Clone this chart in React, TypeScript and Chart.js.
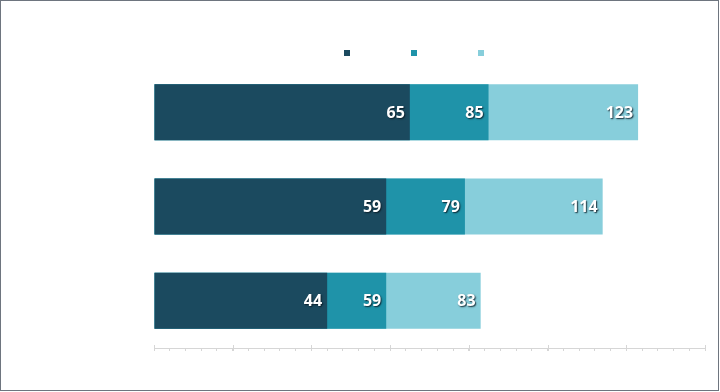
import React, { useEffect, useRef } from "react";
import { Chart, registerables } from "chart.js";

Chart.register(...registerables);

const categories = ["Row 1", "Row 2", "Row 3"];
const seriesNames = ["Series 1", "Series 2", "Series 3"];
const series1 = [65, 59, 44];
const series2 = [85, 79, 59];
const series3 = [123, 114, 83];
const colors = ["#1b4a5f", "#1f93a9", "#87cedb"];
const axisMax = 140;
const minorStep = 4;
const majorStep = 20;

const valueLabels = {
  id: "valueLabels",
  afterDatasetsDraw(chart: any) {
    const ctx = chart.ctx;
    ctx.save();
    ctx.font = "700 16px 'Open Sans'";
    ctx.textAlign = "right";
    ctx.textBaseline = "middle";
    chart.data.datasets.forEach((ds: any, di: number) => {
      const meta = chart.getDatasetMeta(di);
      meta.data.forEach((el: any, i: number) => {
        const v = ds.data[i];
        ctx.shadowColor = "rgba(10,25,35,0.9)";
        ctx.shadowBlur = 1.5;
        ctx.shadowOffsetX = 1;
        ctx.shadowOffsetY = 1;
        ctx.fillStyle = "#ffffff";
        ctx.fillText(String(v), el.x - 5, el.y + 1);
      });
    });
    ctx.restore();
  },
};

const majorTicks = {
  id: "majorTicks",
  afterDraw(chart: any) {
    const x = chart.scales.x;
    const ctx = chart.ctx;
    const y = chart.chartArea.bottom;
    ctx.save();
    ctx.strokeStyle = "#d6d6d6";
    ctx.lineWidth = 1;
    for (let v = 0; v <= axisMax; v += majorStep) {
      const px = Math.round(x.getPixelForValue(v)) + 0.5;
      ctx.beginPath();
      ctx.moveTo(px, y - 3);
      ctx.lineTo(px, y + 3);
      ctx.stroke();
    }
    ctx.restore();
  },
};

export default function App() {
  const ref = useRef<HTMLCanvasElement>(null);
  useEffect(() => {
    document.body.style.margin = "0";
    const chart = new Chart(ref.current!, {
      type: "bar",
      data: {
        labels: categories,
        datasets: [series1, series2, series3].map((d, i) => ({
          label: seriesNames[i],
          data: d,
          backgroundColor: colors[i],
          borderWidth: 0,
          grouped: false,
          categoryPercentage: 1,
          barPercentage: 0.593,
        })),
      },
      options: {
        indexAxis: "y",
        animation: false,
        responsive: false,
        maintainAspectRatio: false,
        layout: { padding: { top: -8, left: 129, right: 15, bottom: 41 } },
        plugins: {
          tooltip: { enabled: false },
          legend: {
            position: "top",
            maxHeight: 73,
            labels: {
              boxWidth: 6,
              boxHeight: 6,
              padding: 55,
              font: { size: 12 },
              generateLabels: (c: any) =>
                Chart.defaults.plugins.legend.labels
                  .generateLabels(c)
                  .map((it: any) => ({ ...it, text: "" })),
            },
          },
        },
        scales: {
          x: {
            type: "linear",
            min: 0,
            max: axisMax,
            ticks: { display: false, stepSize: minorStep },
            grid: {
              display: true,
              drawOnChartArea: false,
              drawTicks: true,
              tickLength: 3,
              tickColor: "#d6d6d6",
            },
            border: { display: true, color: "#d6d6d6" },
          },
          y: {
            type: "category",
            ticks: { display: false },
            grid: { display: false },
            border: { display: false },
            afterFit: (s: any) => {
              s.width = 25;
            },
          },
        },
      },
      plugins: [valueLabels, majorTicks],
    });
    return () => chart.destroy();
  }, []);
  return (
    <div style={{ position: "relative", width: 720, height: 392, background: "#fff" }}>
      <canvas ref={ref} width={720} height={392} style={{ position: "absolute", left: 0, top: 0 }} />
      <div
        style={{
          position: "absolute",
          left: 0,
          top: 0,
          width: 719,
          height: 391,
          boxSizing: "border-box",
          border: "1px solid #6e757f",
          pointerEvents: "none",
        }}
      />
    </div>
  );
}
